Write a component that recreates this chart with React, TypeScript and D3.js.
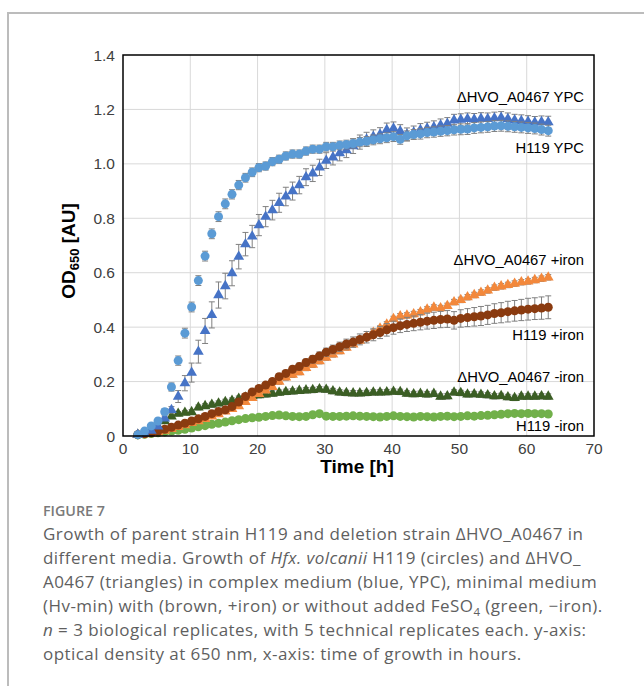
import React from "react";
import * as d3 from "d3";

const W = 644;
const H = 686;

const timeH = [
  2.2, 3.2, 4.2, 5.2, 6.2, 7.2, 8.2, 9.2, 10.2, 11.2,
  12.2, 13.2, 14.2, 15.2, 16.2, 17.2, 18.2, 19.2, 20.2, 21.2,
  22.2, 23.2, 24.2, 25.2, 26.2, 27.2, 28.2, 29.2, 30.2, 31.2,
  32.2, 33.2, 34.2, 35.2, 36.2, 37.2, 38.2, 39.2, 40.2, 41.2,
  42.2, 43.2, 44.2, 45.2, 46.2, 47.2, 48.2, 49.2, 50.2, 51.2,
  52.2, 53.2, 54.2, 55.2, 56.2, 57.2, 58.2, 59.2, 60.2, 61.2,
  62.2, 63.2,
];

const h119YPC = [
  0.005, 0.018, 0.037, 0.055, 0.089, 0.18, 0.277, 0.378, 0.474, 0.571,
  0.661, 0.743, 0.806, 0.853, 0.888, 0.922, 0.949, 0.969, 0.986, 0.992,
  1.008, 1.017, 1.029, 1.036, 1.036, 1.047, 1.054, 1.054, 1.063, 1.063,
  1.068, 1.071, 1.075, 1.08, 1.083, 1.088, 1.092, 1.096, 1.1, 1.09,
  1.103, 1.108, 1.11, 1.115, 1.117, 1.12, 1.122, 1.125, 1.127, 1.128,
  1.132, 1.134, 1.136, 1.139, 1.14, 1.138, 1.136, 1.134, 1.132, 1.13,
  1.126, 1.122,
];
const h119YPCErr = [
  0.004, 0.006, 0.008, 0.01, 0.012, 0.015, 0.017, 0.018, 0.018, 0.018,
  0.018, 0.018, 0.018, 0.018, 0.017, 0.017, 0.016, 0.016, 0.015, 0.015,
  0.015, 0.015, 0.015, 0.015, 0.015, 0.015, 0.015, 0.015, 0.016, 0.016,
  0.016, 0.016, 0.017, 0.017, 0.017, 0.018, 0.018, 0.018, 0.018, 0.018,
  0.018, 0.018, 0.019, 0.019, 0.019, 0.019, 0.019, 0.019, 0.02, 0.02,
  0.02, 0.02, 0.02, 0.02, 0.02, 0.02, 0.02, 0.02, 0.02, 0.02,
  0.02, 0.02,
];

const dHvoYPC = [
  0.005, 0.01, 0.02, 0.035, 0.065, 0.096, 0.145, 0.194, 0.233, 0.31,
  0.386, 0.445, 0.518, 0.551, 0.598, 0.659, 0.705, 0.733, 0.775, 0.806,
  0.83, 0.857, 0.88, 0.9, 0.922, 0.951, 0.965, 0.987, 1.012, 1.024,
  1.039, 1.05, 1.065, 1.08, 1.09, 1.1, 1.108, 1.125, 1.13, 1.12,
  1.108, 1.115, 1.125, 1.13, 1.135, 1.142, 1.148, 1.16, 1.162, 1.165,
  1.163, 1.166, 1.165, 1.168, 1.17, 1.165, 1.16, 1.158, 1.155, 1.152,
  1.154, 1.153,
];
const dHvoYPCErr = [
  0.003, 0.004, 0.005, 0.006, 0.008, 0.012, 0.022, 0.028, 0.035, 0.042,
  0.046, 0.048, 0.048, 0.047, 0.046, 0.045, 0.043, 0.041, 0.039, 0.037,
  0.036, 0.035, 0.034, 0.033, 0.032, 0.031, 0.03, 0.03, 0.029, 0.028,
  0.028, 0.027, 0.027, 0.026, 0.026, 0.025, 0.025, 0.025, 0.024, 0.024,
  0.024, 0.024, 0.023, 0.023, 0.023, 0.023, 0.022, 0.022, 0.022, 0.022,
  0.022, 0.022, 0.022, 0.022, 0.022, 0.022, 0.022, 0.022, 0.022, 0.022,
  0.022, 0.022,
];

const h119Iron = [
  0.005, 0.008, 0.012, 0.018, 0.025, 0.032, 0.04, 0.047, 0.055, 0.063,
  0.072, 0.082, 0.09, 0.096, 0.108, 0.125, 0.145, 0.162, 0.175, 0.187,
  0.2, 0.218, 0.23, 0.245, 0.255, 0.27, 0.282, 0.294, 0.308, 0.318,
  0.328, 0.338, 0.345, 0.355, 0.363, 0.372, 0.38, 0.39, 0.398, 0.405,
  0.41, 0.414, 0.418, 0.422, 0.425, 0.428, 0.43, 0.425, 0.432, 0.435,
  0.438, 0.441, 0.445, 0.45, 0.453, 0.457, 0.46, 0.463, 0.466, 0.468,
  0.47, 0.473,
];
const h119IronErr = [
  0.003, 0.003, 0.004, 0.004, 0.004, 0.005, 0.005, 0.005, 0.006, 0.006,
  0.006, 0.007, 0.007, 0.008, 0.008, 0.008, 0.009, 0.009, 0.01, 0.01,
  0.011, 0.011, 0.012, 0.012, 0.013, 0.013, 0.014, 0.015, 0.015, 0.016,
  0.017, 0.018, 0.019, 0.02, 0.021, 0.022, 0.022, 0.023, 0.024, 0.025,
  0.026, 0.027, 0.028, 0.029, 0.03, 0.03, 0.031, 0.032, 0.032, 0.033,
  0.034, 0.035, 0.035, 0.036, 0.037, 0.038, 0.038, 0.039, 0.04, 0.04,
  0.041, 0.042,
];

const dHvoIron = [
  0.004, 0.007, 0.01, 0.014, 0.02, 0.026, 0.033, 0.04, 0.048, 0.055,
  0.063, 0.072, 0.08, 0.09, 0.1, 0.11, 0.125, 0.14, 0.155, 0.168,
  0.18, 0.2, 0.215, 0.225, 0.235, 0.25, 0.262, 0.275, 0.288, 0.3,
  0.312, 0.325, 0.337, 0.35, 0.365, 0.38, 0.395, 0.41, 0.43, 0.44,
  0.443, 0.448, 0.455, 0.465, 0.472, 0.47, 0.478, 0.492, 0.5, 0.51,
  0.518, 0.527, 0.535, 0.545, 0.55, 0.555, 0.56, 0.565, 0.568, 0.573,
  0.578, 0.583,
];
const dHvoIronErr = [
  0.003, 0.003, 0.004, 0.004, 0.005, 0.005, 0.006, 0.006, 0.006, 0.007,
  0.007, 0.007, 0.008, 0.008, 0.008, 0.008, 0.009, 0.009, 0.009, 0.009,
  0.01, 0.01, 0.01, 0.01, 0.01, 0.01, 0.01, 0.01, 0.01, 0.01,
  0.01, 0.01, 0.01, 0.01, 0.01, 0.01, 0.01, 0.01, 0.01, 0.01,
  0.01, 0.01, 0.01, 0.01, 0.01, 0.01, 0.01, 0.01, 0.01, 0.01,
  0.01, 0.01, 0.01, 0.01, 0.01, 0.01, 0.01, 0.01, 0.01, 0.01,
  0.01, 0.01,
];

const dHvoNoIron = [
  0.005, 0.01, 0.02, 0.035, 0.055, 0.072, 0.082, 0.086, 0.088, 0.105,
  0.11, 0.115, 0.12, 0.125, 0.13, 0.137, 0.142, 0.147, 0.15, 0.153,
  0.156, 0.159, 0.162, 0.164, 0.166, 0.168, 0.169, 0.172, 0.17, 0.165,
  0.16, 0.158, 0.157, 0.157, 0.158, 0.16, 0.16, 0.161, 0.163, 0.162,
  0.156, 0.154, 0.155, 0.153, 0.155, 0.145, 0.146, 0.16, 0.158, 0.153,
  0.154, 0.152, 0.15, 0.146, 0.147, 0.143, 0.14, 0.145, 0.145, 0.145,
  0.146, 0.145,
];
const dHvoNoIronErr = [
  0.003, 0.004, 0.005, 0.006, 0.007, 0.008, 0.008, 0.008, 0.009, 0.009,
  0.009, 0.009, 0.009, 0.01, 0.01, 0.01, 0.01, 0.01, 0.01, 0.01,
  0.01, 0.01, 0.01, 0.01, 0.01, 0.01, 0.01, 0.01, 0.01, 0.01,
  0.01, 0.01, 0.01, 0.01, 0.01, 0.01, 0.01, 0.01, 0.01, 0.01,
  0.01, 0.01, 0.01, 0.01, 0.01, 0.01, 0.01, 0.01, 0.01, 0.01,
  0.01, 0.01, 0.01, 0.01, 0.01, 0.01, 0.01, 0.01, 0.01, 0.01,
  0.01, 0.01,
];

const h119NoIron = [
  0.004, 0.006, 0.009, 0.012, 0.015, 0.018, 0.021, 0.025, 0.029, 0.034,
  0.038, 0.043, 0.047, 0.051, 0.056, 0.06, 0.064, 0.067, 0.069, 0.072,
  0.075, 0.077, 0.074, 0.072, 0.071, 0.072, 0.078, 0.082, 0.073, 0.072,
  0.072, 0.073, 0.074, 0.073, 0.072, 0.071, 0.07, 0.072, 0.074, 0.072,
  0.071, 0.07, 0.072, 0.071, 0.07, 0.072, 0.073, 0.071, 0.072, 0.074,
  0.073, 0.075, 0.076, 0.078, 0.08, 0.082, 0.083, 0.082, 0.083, 0.082,
  0.082, 0.081,
];
const h119NoIronErr = [
  0.003, 0.003, 0.004, 0.004, 0.005, 0.005, 0.005, 0.006, 0.006, 0.006,
  0.007, 0.007, 0.007, 0.007, 0.008, 0.008, 0.008, 0.008, 0.008, 0.008,
  0.008, 0.008, 0.008, 0.008, 0.008, 0.008, 0.008, 0.008, 0.008, 0.008,
  0.008, 0.008, 0.008, 0.008, 0.008, 0.008, 0.008, 0.008, 0.008, 0.008,
  0.008, 0.008, 0.008, 0.008, 0.008, 0.008, 0.008, 0.008, 0.008, 0.008,
  0.008, 0.008, 0.008, 0.008, 0.008, 0.008, 0.008, 0.008, 0.008, 0.008,
  0.008, 0.008,
];

const xTicks = [0, 10, 20, 30, 40, 50, 60, 70];
const yTicks = [0, 0.2, 0.4, 0.6, 0.8, 1.0, 1.2, 1.4];

const seriesNames = [
  "ΔHVO_A0467 YPC",
  "H119 YPC",
  "ΔHVO_A0467 +iron",
  "H119 +iron",
  "ΔHVO_A0467 -iron",
  "H119 -iron",
];
// y-value at which each series label sits
const labelAt = [1.227, 1.04, 0.628, 0.353, 0.198, 0.02];

type Series = {
  name: string;
  values: number[];
  errors: number[];
  shape: "circle" | "triangle";
  color: string;
};

const series: Series[] = [
  { name: seriesNames[4], values: dHvoNoIron, errors: dHvoNoIronErr, shape: "triangle", color: "#3b5e24" },
  { name: seriesNames[5], values: h119NoIron, errors: h119NoIronErr, shape: "circle", color: "#71b04a" },
  { name: seriesNames[2], values: dHvoIron, errors: dHvoIronErr, shape: "triangle", color: "#f2883c" },
  { name: seriesNames[3], values: h119Iron, errors: h119IronErr, shape: "circle", color: "#8a3b10" },
  { name: seriesNames[0], values: dHvoYPC, errors: dHvoYPCErr, shape: "triangle", color: "#4673c6" },
  { name: seriesNames[1], values: h119YPC, errors: h119YPCErr, shape: "circle", color: "#5b9bd5" },
];

const PL = 123;
const PR = 594;
const PT = 55;
const PB = 436;

const x = d3.scaleLinear().domain([0, 70]).range([PL, PR]);
const y = d3.scaleLinear().domain([0, 1.4]).range([PB, PT]);

const triPath = d3.symbol().type(d3.symbolTriangle).size(50)() as string;

const chartFont = "'Liberation Sans', Arial, sans-serif";
const capFont = "'Open Sans', 'Noto Sans', sans-serif";

export default function App() {
  return (
    <svg
      width={W}
      height={H}
      viewBox={`0 0 ${W} ${H}`}
      style={{ position: "absolute", left: 0, top: 0, background: "#fff" }}
    >
      <rect x={0} y={0} width={W} height={H} fill="#fff" />
      <path d={`M8,${H} V13 H${W}`} fill="none" stroke="#bcbcbc" strokeWidth={2} />

      {/* gridlines */}
      <g stroke="#d9d9d9" strokeWidth={1}>
        {xTicks.slice(1, -1).map((t) => (
          <line key={"gx" + t} x1={x(t)} x2={x(t)} y1={PT} y2={PB} />
        ))}
        {yTicks.slice(1, -1).map((t) => (
          <line key={"gy" + t} x1={PL} x2={PR} y1={y(t)} y2={y(t)} />
        ))}
      </g>

      {/* series */}
      {series.map((s) => (
        <g key={s.name}>
          <g stroke="#808080" strokeWidth={1} fill="none">
            {s.values.map((v, i) => {
              const cx = x(timeH[i]);
              const y1 = y(v + s.errors[i]);
              const y2 = y(v - s.errors[i]);
              return (
                <path
                  key={i}
                  d={`M${cx},${y1}V${y2}M${cx - 3},${y1}H${cx + 3}M${cx - 3},${y2}H${cx + 3}`}
                />
              );
            })}
          </g>
          <g fill={s.color}>
            {s.values.map((v, i) =>
              s.shape === "circle" ? (
                <circle key={i} cx={x(timeH[i])} cy={y(v)} r={4.5} />
              ) : (
                <path key={i} d={triPath} transform={`translate(${x(timeH[i])},${y(v)})`} />
              )
            )}
          </g>
        </g>
      ))}

      {/* plot border */}
      <rect x={PL} y={PT} width={PR - PL} height={PB - PT} fill="none" stroke="#000" strokeWidth={1.5} />

      {/* tick labels */}
      <g fontFamily={chartFont} fontSize={15.5} fill="#404040">
        {yTicks.map((t) => (
          <text key={"yt" + t} x={115} y={y(t) + 5.5} textAnchor="end">
            {t === 0 ? "0" : t.toFixed(1)}
          </text>
        ))}
        {xTicks.map((t) => (
          <text key={"xt" + t} x={x(t)} y={PB + 18} textAnchor="middle">
            {t}
          </text>
        ))}
      </g>

      {/* axis titles */}
      <text x={357} y={473} textAnchor="middle" fontFamily={chartFont} fontWeight="bold" fontSize={19} fill="#000">
        Time [h]
      </text>
      <text
        transform={`translate(75,251) rotate(-90)`}
        textAnchor="middle"
        fontFamily={chartFont}
        fontWeight="bold"
        fontSize={19}
        fill="#000"
      >
        <tspan>OD</tspan>
        <tspan fontSize={13} dy={4}>650</tspan>
        <tspan dy={-4}> [AU]</tspan>
      </text>

      {/* series labels */}
      <g fontFamily={chartFont} fontSize={14.8} fill="#000">
        {seriesNames.map((n, i) => (
          <text key={n} x={584} y={y(labelAt[i])} textAnchor="end">
            {n}
          </text>
        ))}
      </g>

      {/* caption */}
      <text x={43} y={516} fontFamily={capFont} fontSize={14.3} fontWeight={600} fill="#7a7a7a">
        FIGURE 7
      </text>
      <g fontFamily={capFont} fontSize={17} letterSpacing={0.45} fill="#5f5f5f">
        <text x={43} y={540}>Growth of parent strain H119 and deletion strain ΔHVO_A0467 in</text>
        <text x={43} y={564}>
          different media. Growth of <tspan fontStyle="italic">Hfx. volcanii</tspan> H119 (circles) and ΔHVO_
        </text>
        <text x={43} y={588}>A0467 (triangles) in complex medium (blue, YPC), minimal medium</text>
        <text x={43} y={612}>
          (Hv-min) with (brown, +iron) or without added FeSO
          <tspan fontSize={11.5} dy={4}>4</tspan>
          <tspan dy={-4}> (green, −iron).</tspan>
        </text>
        <text x={43} y={636}>
          <tspan fontStyle="italic">n</tspan> = 3 biological replicates, with 5 technical replicates each. y-axis:
        </text>
        <text x={43} y={660}>optical density at 650 nm, x-axis: time of growth in hours.</text>
      </g>
    </svg>
  );
}
